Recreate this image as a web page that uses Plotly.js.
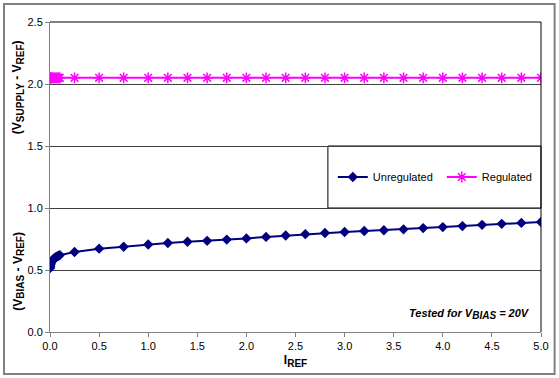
<!DOCTYPE html>
<html>
<head>
<meta charset="utf-8">
<script src="https://cdn.plot.ly/plotly-3.0.1.min.js"></script>
<style>
html,body{margin:0;padding:0;background:#fff;}
#chart{width:559px;height:378px;}
</style>
</head>
<body>
<div id="chart"></div>
<script>
// I_REF values (x)
var iref = [0, 0.001, 0.002, 0.005, 0.01, 0.015, 0.02, 0.03, 0.04, 0.05, 0.06, 0.07, 0.08, 0.09, 0.1,
            0.25, 0.5, 0.75, 1.0, 1.2, 1.4, 1.6, 1.8, 2.0, 2.2, 2.4, 2.6, 2.8, 3.0, 3.2, 3.4,
            3.6, 3.8, 4.0, 4.2, 4.4, 4.6, 4.8, 5.0];
// Unregulated: (V_BIAS - V_REF)
var unregulated = [0.515, 0.525, 0.532, 0.545, 0.557, 0.566, 0.573, 0.583, 0.592, 0.598, 0.603, 0.608, 0.612, 0.616, 0.62,
                   0.645, 0.672, 0.688, 0.706, 0.718, 0.728, 0.735, 0.745, 0.755, 0.767, 0.778, 0.789, 0.798, 0.806, 0.814, 0.820,
                   0.828, 0.838, 0.846, 0.854, 0.864, 0.872, 0.880, 0.887];
// Regulated: (V_SUPPLY - V_REF)
var regulated = [2.05, 2.05, 2.05, 2.05, 2.05, 2.05, 2.05, 2.05, 2.05, 2.05, 2.05, 2.05, 2.05, 2.05, 2.05,
                 2.05, 2.05, 2.05, 2.05, 2.05, 2.05, 2.05, 2.05, 2.05, 2.05, 2.05, 2.05, 2.05, 2.05, 2.05, 2.05,
                 2.05, 2.05, 2.05, 2.05, 2.05, 2.05, 2.05, 2.05];
var xTicks = [0, 0.5, 1, 1.5, 2, 2.5, 3, 3.5, 4, 4.5, 5];
var xTickText = ['0.0','0.5','1.0','1.5','2.0','2.5','3.0','3.5','4.0','4.5','5.0'];
var yTicks = [0, 0.5, 1, 1.5, 2, 2.5];
var yTickText = ['0.0','0.5','1.0','1.5','2.0','2.5'];

var FONT = 'Arial, "Liberation Sans", sans-serif';
function sub(t, px) { return '<sub><span style="font-size:' + px + 'px">' + t + '</span></sub>'; }

var traces = [
  {x: iref, y: unregulated, name: 'Unregulated', type: 'scatter', mode: 'lines+markers',
   line: {color: '#000080', width: 2}, marker: {symbol: 'diamond', size: 8, color: '#000080'}},
  {x: iref, y: regulated, name: 'Regulated', type: 'scatter', mode: 'lines+markers',
   line: {color: '#FF00FF', width: 2}, marker: {symbol: 'asterisk-open', size: 9, color: '#FF00FF', line: {color: '#FF00FF', width: 1.5}}}
];

var layout = {
  width: 559, height: 378,
  margin: {l: 50, r: 18, t: 22, b: 46, autoexpand: false},
  paper_bgcolor: '#fff', plot_bgcolor: '#fff',
  font: {family: FONT, size: 11, color: '#000'},
  showlegend: true,
  legend: {orientation: 'h', x: 0.576, xanchor: 'left', y: 0.5, yanchor: 'middle',
           bgcolor: 'rgba(0,0,0,0)', borderwidth: 0, font: {family: FONT, size: 11, color: '#000'},
           entrywidth: 64, entrywidthmode: 'pixels', traceorder: 'normal'},
  xaxis: {range: [0, 5], tickvals: xTicks, ticktext: xTickText, showgrid: false, zeroline: false,
          showline: true, linecolor: '#808080', linewidth: 1, ticks: 'outside', ticklen: 4, tickcolor: '#808080',
          tickfont: {family: FONT, size: 11, color: '#000'},
          title: {text: '<b>I' + sub('REF', 10) + '</b>', font: {family: FONT, size: 12, color: '#000'}, standoff: 4}},
  yaxis: {range: [0, 2.5], tickvals: yTicks, ticktext: yTickText, showgrid: true, gridcolor: '#404040', gridwidth: 1,
          zeroline: false, showline: true, linecolor: '#808080', linewidth: 1, ticks: 'outside', ticklen: 4, tickcolor: '#808080',
          tickfont: {family: FONT, size: 11, color: '#000'}},
  shapes: [
    {type: 'rect', xref: 'paper', yref: 'y', x0: 0.566, x1: 1, y0: 1.0, y1: 1.5, line: {color: '#000', width: 1}, fillcolor: 'rgba(0,0,0,0)', layer: 'below'},
    {type: 'line', xref: 'paper', yref: 'paper', x0: 1, x1: 1, y0: 0, y1: 1, line: {color: '#000', width: 1}},
    {type: 'line', xref: 'paper', yref: 'paper', x0: 0, x1: 1, y0: 1, y1: 1, line: {color: '#000', width: 1}},
    {type: 'rect', xref: 'paper', yref: 'paper', x0: -0.0937, x1: 1.0277, y0: -0.1355, y1: 1.0581, line: {color: '#808080', width: 2}, fillcolor: 'rgba(0,0,0,0)'}
  ],
  annotations: [
    {text: '<b>(V' + sub('SUPPLY', 10) + ' - V' + sub('REF', 10) + ')</b>', xref: 'paper', yref: 'paper', x: -0.065, y: 0.79,
     textangle: -90, showarrow: false, font: {family: FONT, size: 12, color: '#000'}, xanchor: 'center', yanchor: 'middle'},
    {text: '<b>(V' + sub('BIAS', 10) + ' - V' + sub('REF', 10) + ')</b>', xref: 'paper', yref: 'paper', x: -0.065, y: 0.195,
     textangle: -90, showarrow: false, font: {family: FONT, size: 12, color: '#000'}, xanchor: 'center', yanchor: 'middle'},
    {text: '<b><i>Tested for V' + sub('BIAS', 10) + ' = 20V</i></b>', xref: 'paper', yref: 'paper', x: 0.982, y: 0.03,
     showarrow: false, font: {family: FONT, size: 11, color: '#000'}, xanchor: 'right', yanchor: 'bottom'}
  ]
};

Plotly.newPlot('chart', traces, layout, {displayModeBar: false, staticPlot: true});
</script>
</body>
</html>
